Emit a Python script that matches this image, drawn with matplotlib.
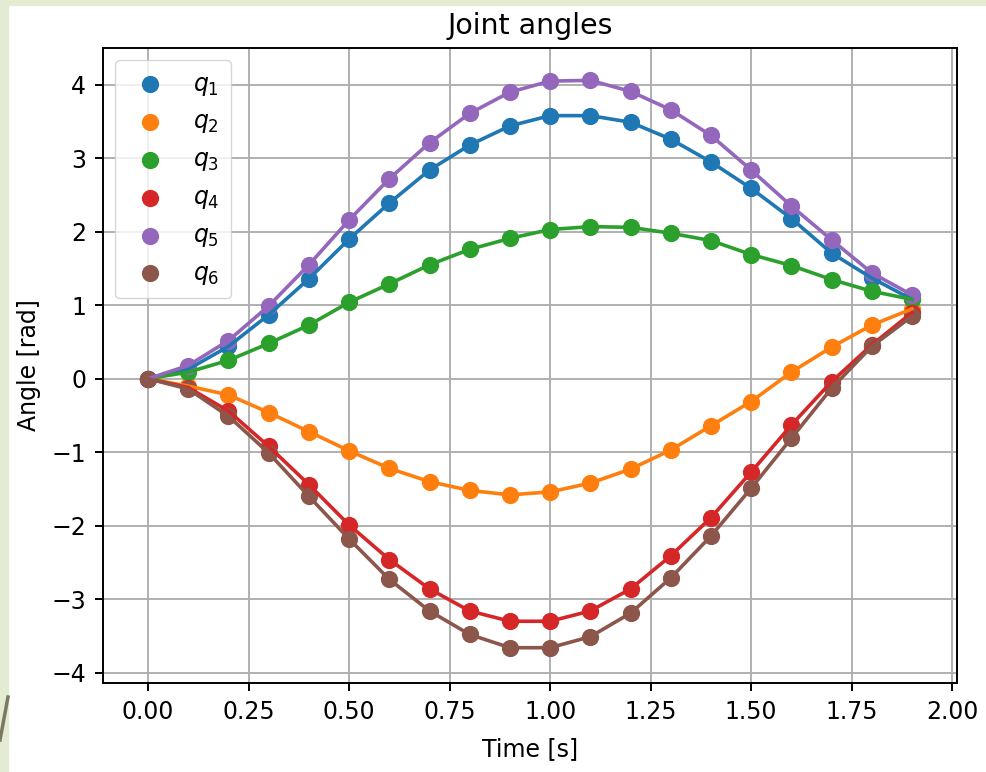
import matplotlib.pyplot as plt
from matplotlib.patches import Rectangle
from matplotlib.lines import Line2D

### data
t = [0.0, 0.1, 0.2, 0.3, 0.4, 0.5, 0.6, 0.7, 0.8, 0.9,
     1.0, 1.1, 1.2, 1.3, 1.4, 1.5, 1.6, 1.7, 1.8, 1.9]

q1 = [0, 0.13, 0.44, 0.87, 1.36, 1.90, 2.39, 2.84, 3.18, 3.44,
      3.58, 3.58, 3.49, 3.26, 2.95, 2.59, 2.18, 1.71, 1.37, 1.08]
q2 = [0, -0.10, -0.22, -0.46, -0.72, -0.98, -1.22, -1.40, -1.52, -1.58,
      -1.54, -1.42, -1.23, -0.97, -0.64, -0.31, 0.09, 0.43, 0.73, 0.95]
q3 = [0, 0.09, 0.25, 0.48, 0.73, 1.04, 1.29, 1.55, 1.76, 1.91,
      2.03, 2.07, 2.06, 1.98, 1.88, 1.69, 1.54, 1.35, 1.19, 1.08]
q4 = [0, -0.12, -0.44, -0.92, -1.44, -1.99, -2.46, -2.86, -3.16, -3.30,
      -3.30, -3.16, -2.86, -2.41, -1.89, -1.27, -0.63, -0.04, 0.46, 0.90]
q5 = [0, 0.18, 0.52, 0.99, 1.55, 2.16, 2.72, 3.21, 3.61, 3.90,
      4.05, 4.06, 3.91, 3.66, 3.31, 2.84, 2.35, 1.89, 1.44, 1.14]
q6 = [0, -0.14, -0.51, -1.01, -1.60, -2.18, -2.73, -3.16, -3.48, -3.66,
      -3.66, -3.51, -3.19, -2.71, -2.14, -1.49, -0.81, -0.13, 0.44, 0.85]

series = [q1, q2, q3, q4, q5, q6]
labels = ['$q_1$', '$q_2$', '$q_3$', '$q_4$', '$q_5$', '$q_6$']
colors = ['C0', 'C1', 'C2', 'C3', 'C4', 'C5']

plt.rcParams['font.size'] = 17

fig = plt.figure(figsize=(9.86, 7.72), dpi=100)
ax = fig.add_axes([0.1045, 0.1153, 0.8661, 0.8225])

### slide background strips behind the screenshot
green = '#e4ebd3'
fig.patches.append(Rectangle((0, 0), 8/986, 1, transform=fig.transFigure,
                             color=green, zorder=0))
fig.patches.append(Rectangle((0, 1 - 5/772), 1, 5/772, transform=fig.transFigure,
                             color=green, zorder=0))
fig.lines.append(Line2D([0, 8/986], [32/772, 75/772], transform=fig.transFigure,
                        color='#7d7862', lw=2.5))

### markers (legend) + connecting lines
for q, lab, c in zip(series, labels, colors):
    ax.scatter(t, q, s=130, color=c, label=lab)
    ax.plot(t, q, color=c, lw=2.6)

ax.set_xlim(-0.112, 2.012)
ax.set_ylim(-4.14, 4.50)
ax.set_xticks([0, 0.25, 0.5, 0.75, 1.0, 1.25, 1.5, 1.75, 2.0])
ax.set_xticklabels(['0.00', '0.25', '0.50', '0.75', '1.00',
                    '1.25', '1.50', '1.75', '2.00'])
ax.set_yticks([-4, -3, -2, -1, 0, 1, 2, 3, 4])

ax.grid(True, color='#b0b0b0', lw=1.4)
ax.set_axisbelow(True)
for sp in ax.spines.values():
    sp.set_linewidth(1.4)
ax.tick_params(length=6, width=1.4, pad=6)

ax.set_title('Joint angles', fontsize=20.5, pad=10)
ax.set_xlabel('Time [s]', labelpad=10)
ax.set_ylabel('Angle [rad]', labelpad=8)
ax.legend(loc='upper left', fontsize=17, handletextpad=0.8, borderpad=0.5)

fig.savefig('out.png', dpi=100)
